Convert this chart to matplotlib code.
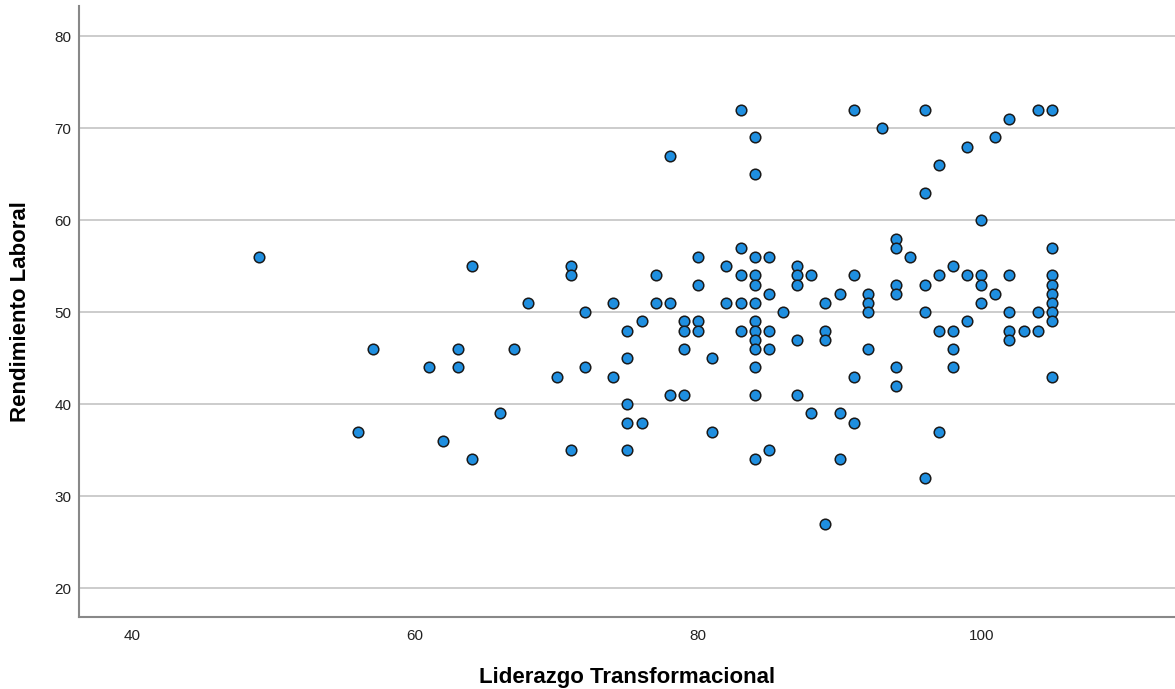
import numpy as np
import matplotlib.pyplot as plt

# Liderazgo Transformacional (x) -> Rendimiento Laboral (y), grouped by x
liderazgo = [49, 56, 57, 61, 62, 63, 63, 64, 64, 66, 67, 68, 70,
             71, 71, 71, 72, 72, 74, 74,
             75, 75, 75, 75, 75, 76, 76, 77, 77, 78, 78, 78,
             79, 79, 79, 79, 80, 80, 80, 80, 81, 81, 82, 82,
             83, 83, 83, 83, 83,
             84, 84, 84, 84, 84, 84, 84, 84, 84, 84, 84, 84, 84,
             85, 85, 85, 85, 85, 86, 87, 87, 87, 87, 87, 88, 88,
             89, 89, 89, 89, 90, 90, 90, 91, 91, 91, 91,
             92, 92, 92, 92, 93, 94, 94, 94, 94, 94, 94, 95,
             96, 96, 96, 96, 96, 97, 97, 97, 97, 98, 98, 98, 98,
             99, 99, 99, 100, 100, 100, 100, 101, 101,
             102, 102, 102, 102, 102, 103, 104, 104, 104,
             105, 105, 105, 105, 105, 105, 105, 105, 105]
rendimiento = [56, 37, 46, 44, 36, 46, 44, 55, 34, 39, 46, 51, 43,
               55, 54, 35, 50, 44, 51, 43,
               48, 45, 40, 38, 35, 49, 38, 54, 51, 67, 51, 41,
               49, 48, 46, 41, 56, 53, 49, 48, 45, 37, 55, 51,
               72, 57, 54, 51, 48,
               69, 65, 56, 54, 53, 51, 49, 48, 47, 46, 44, 41, 34,
               56, 52, 48, 46, 35, 50, 55, 54, 53, 47, 41, 54, 39,
               51, 48, 47, 27, 52, 39, 34, 72, 54, 43, 38,
               52, 51, 50, 46, 70, 58, 57, 53, 52, 44, 42, 56,
               72, 63, 53, 50, 32, 66, 54, 48, 37, 55, 48, 46, 44,
               68, 54, 49, 60, 54, 53, 51, 69, 52,
               71, 54, 50, 48, 47, 48, 72, 50, 48,
               72, 57, 54, 53, 52, 51, 50, 49, 43]

plt.rcParams['font.family'] = ['Liberation Sans', 'DejaVu Sans']

fig = plt.figure(figsize=(11.75, 6.89), dpi=100)
ax = fig.add_axes([79/1175, 1-617/689, 1-79/1175, (617-6)/689])

ax.scatter(liderazgo, rendimiento, s=58, c='#1f8fe0', edgecolors='#1a1a1a',
           linewidths=1.1, zorder=3)

ax.set_xlim(36.25, 113.7)
ax.set_ylim(16.85, 83.3)
ax.set_xticks([40, 60, 80, 100])
ax.set_yticks([20, 30, 40, 50, 60, 70, 80])
ax.yaxis.grid(True, color='#c8c8c8', linewidth=1.3, zorder=0)
ax.set_axisbelow(True)

for s in ['top', 'right']:
    ax.spines[s].set_visible(False)
for s in ['left', 'bottom']:
    ax.spines[s].set_color('#888888')
    ax.spines[s].set_linewidth(1.5)

ax.tick_params(length=0, labelsize=11, labelcolor='#222222')
ax.tick_params(axis='x', pad=9)
ax.tick_params(axis='y', pad=5.5)

ax.set_xlabel('Liderazgo Transformacional', fontsize=16, fontweight='bold', labelpad=17)
ax.set_ylabel('Rendimiento Laboral', fontsize=16, fontweight='bold', labelpad=17)

plt.savefig('out.png', dpi=100)
